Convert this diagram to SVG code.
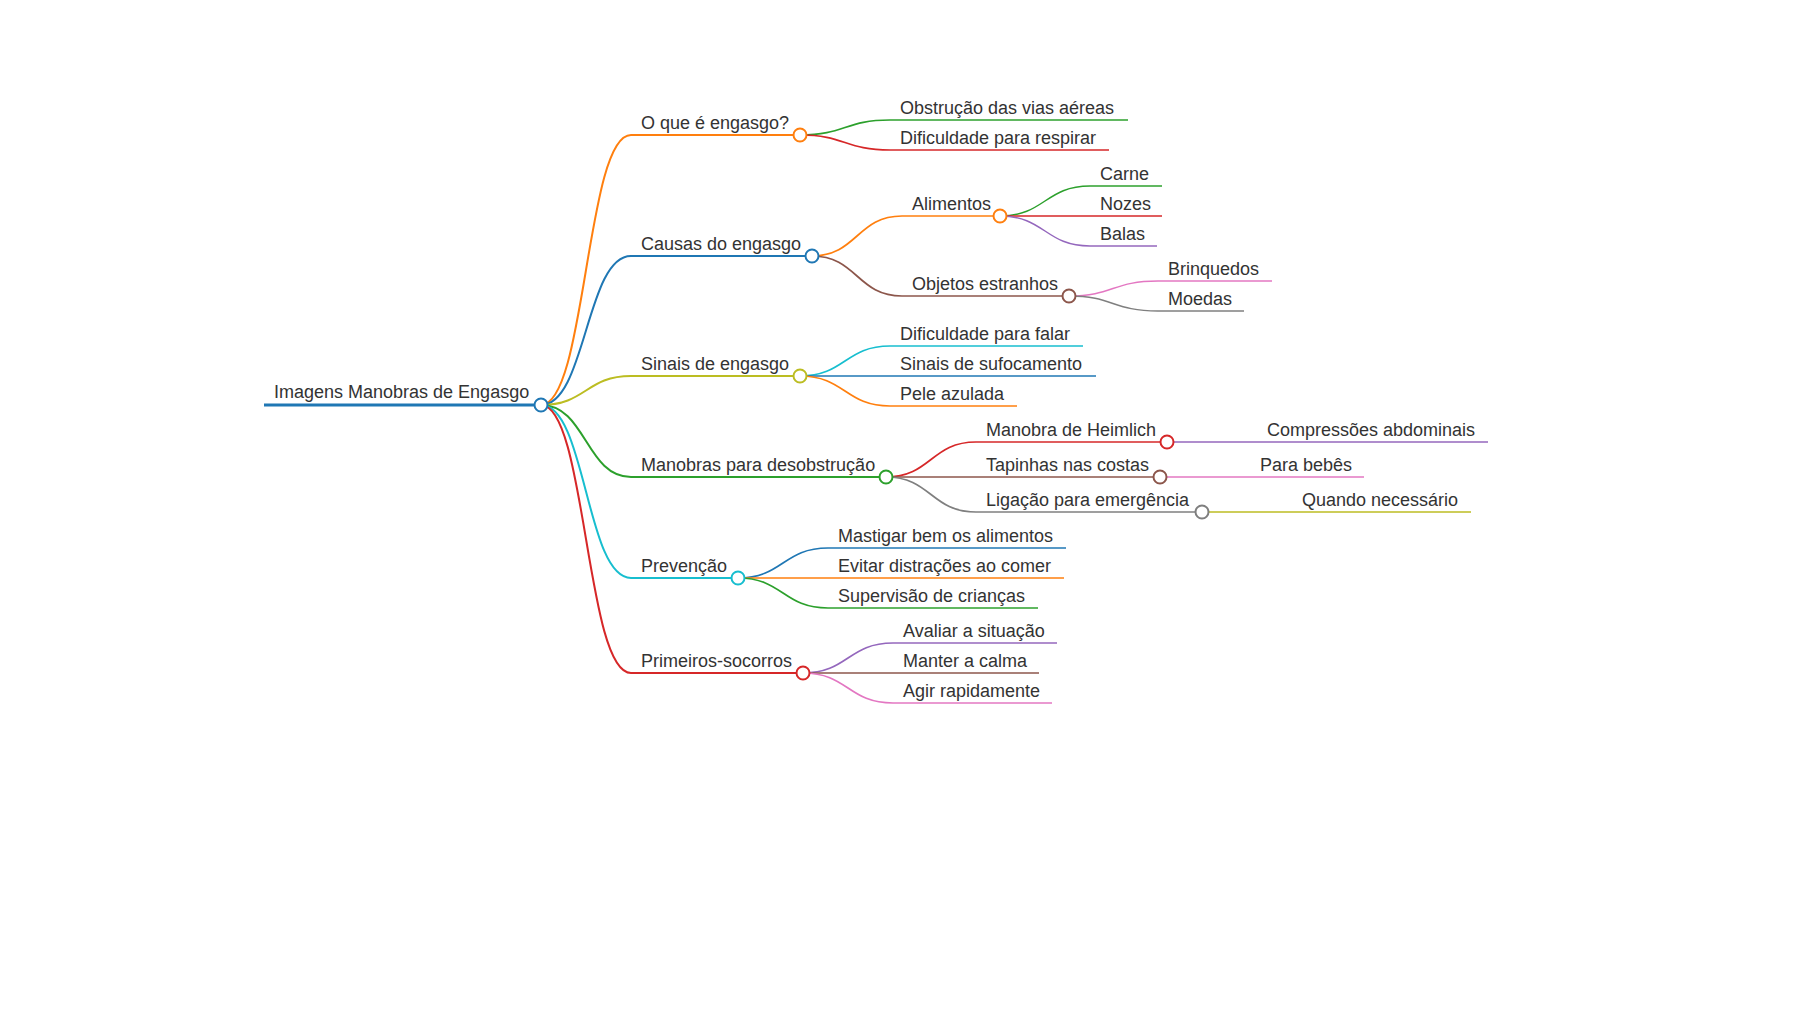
<svg xmlns="http://www.w3.org/2000/svg" width="1800" height="1012" viewBox="0 0 1800 1012">
<style>
text{font-family:"Liberation Sans",Arial,sans-serif;font-size:18px;fill:#333}
.c{fill:none}
.d1{stroke-width:2}
.d2{stroke-width:1.7}
.d3{stroke-width:1.5}
circle{fill:#fff;stroke-width:2}
.blue{stroke:#1f77b4}.orange{stroke:#ff7f0e}.green{stroke:#2ca02c}.red{stroke:#d62728}.purple{stroke:#9467bd}
.brown{stroke:#8c564b}.pink{stroke:#e377c2}.gray{stroke:#7f7f7f}.olive{stroke:#bcbd22}.cyan{stroke:#17becf}
</style>
<rect width="1800" height="1012" fill="#fff"/>
<g id="connectors" class="c">
<path class="c d1 orange" d="M541,405 C586,405 586,135 631,135"/>
<path class="c d1 blue" d="M541,405 C586,405 586,256 631,256"/>
<path class="c d1 olive" d="M541,405 C586,405 586,376 631,376"/>
<path class="c d1 green" d="M541,405 C586,405 586,477 631,477"/>
<path class="c d1 cyan" d="M541,405 C586,405 586,578 631,578"/>
<path class="c d1 red" d="M541,405 C586,405 586,673 631,673"/>
<path class="c d2 green" d="M800,135 C845,135 845,120 890,120"/>
<path class="c d2 red" d="M800,135 C845,135 845,150 890,150"/>
<path class="c d2 orange" d="M812,256 C857,256 857,216 902,216"/>
<path class="c d2 brown" d="M812,256 C857,256 857,296 902,296"/>
<path class="c d3 green" d="M1000,216 C1045,216 1045,186 1090,186"/>
<path class="c d3 red" d="M1000,216 C1045,216 1045,216 1090,216"/>
<path class="c d3 purple" d="M1000,216 C1045,216 1045,246 1090,246"/>
<path class="c d3 pink" d="M1069,296 C1113,296 1113,281 1158,281"/>
<path class="c d3 gray" d="M1069,296 C1113,296 1113,311 1158,311"/>
<path class="c d2 cyan" d="M800,376 C845,376 845,346 890,346"/>
<path class="c d2 blue" d="M800,376 C845,376 845,376 890,376"/>
<path class="c d2 orange" d="M800,376 C845,376 845,406 890,406"/>
<path class="c d2 red" d="M886,477 C931,477 931,442 976,442"/>
<path class="c d2 brown" d="M886,477 C931,477 931,477 976,477"/>
<path class="c d2 gray" d="M886,477 C931,477 931,512 976,512"/>
<path class="c d3 purple" d="M1167,442 L1257,442"/>
<path class="c d3 pink" d="M1160,477 L1250,477"/>
<path class="c d3 olive" d="M1202,512 L1292,512"/>
<path class="c d2 blue" d="M738,578 C783,578 783,548 828,548"/>
<path class="c d2 orange" d="M738,578 C783,578 783,578 828,578"/>
<path class="c d2 green" d="M738,578 C783,578 783,608 828,608"/>
<path class="c d2 purple" d="M803,673 C848,673 848,643 893,643"/>
<path class="c d2 brown" d="M803,673 C848,673 848,673 893,673"/>
<path class="c d2 pink" d="M803,673 C848,673 848,703 893,703"/>
</g>
<g id="root"><path class="c blue" stroke-width="3" d="M264,405 H541"/><text x="274" y="398">Imagens Manobras de Engasgo</text><circle class="blue" cx="541" cy="405" r="6.5"/></g>
<g id="n-oque"><path class="c d1 orange" d="M631,135 H800"/><text x="641" y="129">O que é engasgo?</text><circle class="orange" cx="800" cy="135" r="6.5"/></g>
<g id="n-obstrucao"><path class="c d2 green" d="M890,120 H1128"/><text x="900" y="114">Obstrução das vias aéreas</text></g>
<g id="n-respirar"><path class="c d2 red" d="M890,150 H1109"/><text x="900" y="144">Dificuldade para respirar</text></g>
<g id="n-causas"><path class="c d1 blue" d="M631,256 H812"/><text x="641" y="250">Causas do engasgo</text><circle class="blue" cx="812" cy="256" r="6.5"/></g>
<g id="n-alimentos"><path class="c d2 orange" d="M902,216 H1000"/><text x="912" y="210">Alimentos</text><circle class="orange" cx="1000" cy="216" r="6.5"/></g>
<g id="n-carne"><path class="c d3 green" d="M1090,186 H1162"/><text x="1100" y="180">Carne</text></g>
<g id="n-nozes"><path class="c d3 red" d="M1090,216 H1162"/><text x="1100" y="210">Nozes</text></g>
<g id="n-balas"><path class="c d3 purple" d="M1090,246 H1157"/><text x="1100" y="240">Balas</text></g>
<g id="n-objetos"><path class="c d2 brown" d="M902,296 H1069"/><text x="912" y="290">Objetos estranhos</text><circle class="brown" cx="1069" cy="296" r="6.5"/></g>
<g id="n-brinquedos"><path class="c d3 pink" d="M1158,281 H1272"/><text x="1168" y="275">Brinquedos</text></g>
<g id="n-moedas"><path class="c d3 gray" d="M1158,311 H1244"/><text x="1168" y="305">Moedas</text></g>
<g id="n-sinais"><path class="c d1 olive" d="M631,376 H800"/><text x="641" y="370">Sinais de engasgo</text><circle class="olive" cx="800" cy="376" r="6.5"/></g>
<g id="n-falar"><path class="c d2 cyan" d="M890,346 H1083"/><text x="900" y="340">Dificuldade para falar</text></g>
<g id="n-sufocamento"><path class="c d2 blue" d="M890,376 H1096"/><text x="900" y="370">Sinais de sufocamento</text></g>
<g id="n-azulada"><path class="c d2 orange" d="M890,406 H1017"/><text x="900" y="400">Pele azulada</text></g>
<g id="n-manobras"><path class="c d1 green" d="M631,477 H886"/><text x="641" y="471">Manobras para desobstrução</text><circle class="green" cx="886" cy="477" r="6.5"/></g>
<g id="n-heimlich"><path class="c d2 red" d="M976,442 H1167"/><text x="986" y="436">Manobra de Heimlich</text><circle class="red" cx="1167" cy="442" r="6.5"/></g>
<g id="n-compressoes"><path class="c d3 purple" d="M1257,442 H1488"/><text x="1267" y="436">Compressões abdominais</text></g>
<g id="n-tapinhas"><path class="c d2 brown" d="M976,477 H1160"/><text x="986" y="471">Tapinhas nas costas</text><circle class="brown" cx="1160" cy="477" r="6.5"/></g>
<g id="n-bebes"><path class="c d3 pink" d="M1250,477 H1364"/><text x="1260" y="471">Para bebês</text></g>
<g id="n-ligacao"><path class="c d2 gray" d="M976,512 H1202"/><text x="986" y="506">Ligação para emergência</text><circle class="gray" cx="1202" cy="512" r="6.5"/></g>
<g id="n-quando"><path class="c d3 olive" d="M1292,512 H1471"/><text x="1302" y="506">Quando necessário</text></g>
<g id="n-prevencao"><path class="c d1 cyan" d="M631,578 H738"/><text x="641" y="572">Prevenção</text><circle class="cyan" cx="738" cy="578" r="6.5"/></g>
<g id="n-mastigar"><path class="c d2 blue" d="M828,548 H1066"/><text x="838" y="542">Mastigar bem os alimentos</text></g>
<g id="n-evitar"><path class="c d2 orange" d="M828,578 H1064"/><text x="838" y="572">Evitar distrações ao comer</text></g>
<g id="n-supervisao"><path class="c d2 green" d="M828,608 H1038"/><text x="838" y="602">Supervisão de crianças</text></g>
<g id="n-primeiros"><path class="c d1 red" d="M631,673 H803"/><text x="641" y="667">Primeiros-socorros</text><circle class="red" cx="803" cy="673" r="6.5"/></g>
<g id="n-avaliar"><path class="c d2 purple" d="M893,643 H1057"/><text x="903" y="637">Avaliar a situação</text></g>
<g id="n-manter"><path class="c d2 brown" d="M893,673 H1039"/><text x="903" y="667">Manter a calma</text></g>
<g id="n-agir"><path class="c d2 pink" d="M893,703 H1052"/><text x="903" y="697">Agir rapidamente</text></g>
</svg>
